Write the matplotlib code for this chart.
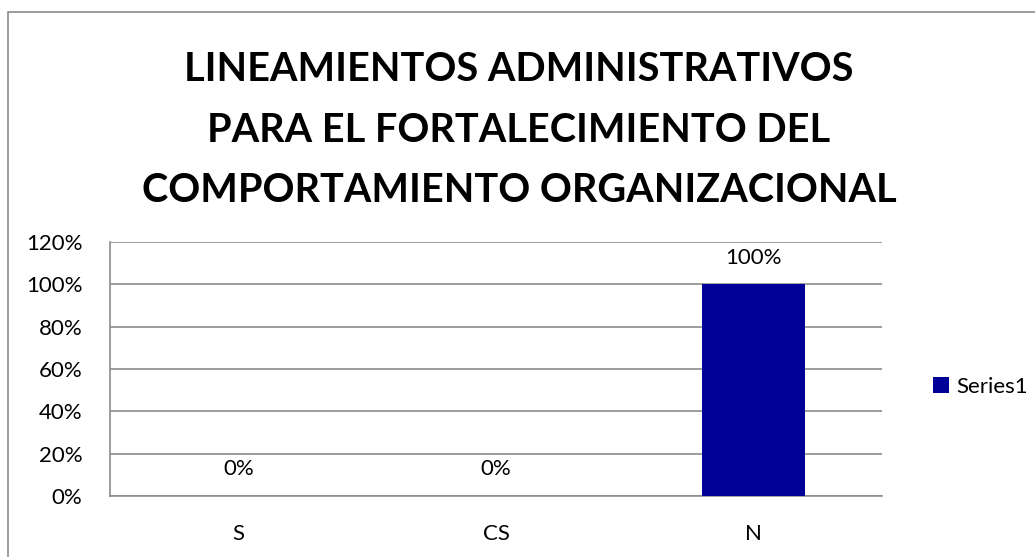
import matplotlib.pyplot as plt
import matplotlib.ticker as ticker
from matplotlib.patches import Rectangle

# ── Data ──
categories = ["S", "CS", "N"]
values = [0, 0, 100]
series_name = "Series1"
title = ("LINEAMIENTOS ADMINISTRATIVOS\n"
         "PARA EL FORTALECIMIENTO DEL\n"
         "COMPORTAMIENTO ORGANIZACIONAL")

BAR_COLOR = "#000099"
GRID_COLOR = "#8c8c8c"
FONT = ["Lato", "DejaVu Sans"]
FS = 16

W, H = 1035, 557
fig = plt.figure(figsize=(W / 100, H / 100), dpi=100)
plt.rcParams["font.family"] = FONT

# outer chart border
fig.patches.append(Rectangle((8 / W, -0.1), 1.2, 1.1 - 12 / H,
                             transform=fig.transFigure, fill=False,
                             edgecolor="#8c8c8c", lw=1.2))

# plot area in pixel coords: x 110..882, y 242..496
ax = fig.add_axes([110 / W, 1 - 496 / H, (882 - 110) / W, (496 - 242) / H])

x = range(len(categories))
ax.bar(x, values, width=0.4, color=BAR_COLOR, label=series_name, zorder=3)

# data labels above each bar
for xi, v in zip(x, values):
    ax.annotate(f"{v}%", xy=(xi, v), xytext=(0, 12), textcoords="offset points",
                ha="center", va="bottom", fontsize=FS, color="black")

ax.set_xlim(-0.5, 2.5)
ax.set_ylim(0, 120)
ax.set_yticks(range(0, 121, 20))
ax.yaxis.set_major_formatter(ticker.FuncFormatter(lambda y, _: f"{int(y)}%"))
ax.set_xticks(list(x))
ax.set_xticklabels(categories)
ax.tick_params(axis="both", length=0, labelsize=FS, colors="black")
ax.tick_params(axis="y", pad=20)
ax.tick_params(axis="x", pad=20)

ax.grid(True, axis="y", color=GRID_COLOR, lw=1.2, zorder=0)
for side in ["top", "right"]:
    ax.spines[side].set_visible(False)
for side in ["left", "bottom"]:
    ax.spines[side].set_color(GRID_COLOR)
    ax.spines[side].set_linewidth(1.2)

fig.text(519 / W, 1 - 130 / H, title, ha="center", va="center",
         fontsize=28.5, fontweight="bold", linespacing=1.79)

fig.legend(loc="center left", bbox_to_anchor=(922 / W, 1 - 387 / H),
           frameon=False, fontsize=FS, handlelength=0.7, handleheight=0.7,
           handletextpad=0.35, borderpad=0)

fig.savefig("out.png", dpi=100)
